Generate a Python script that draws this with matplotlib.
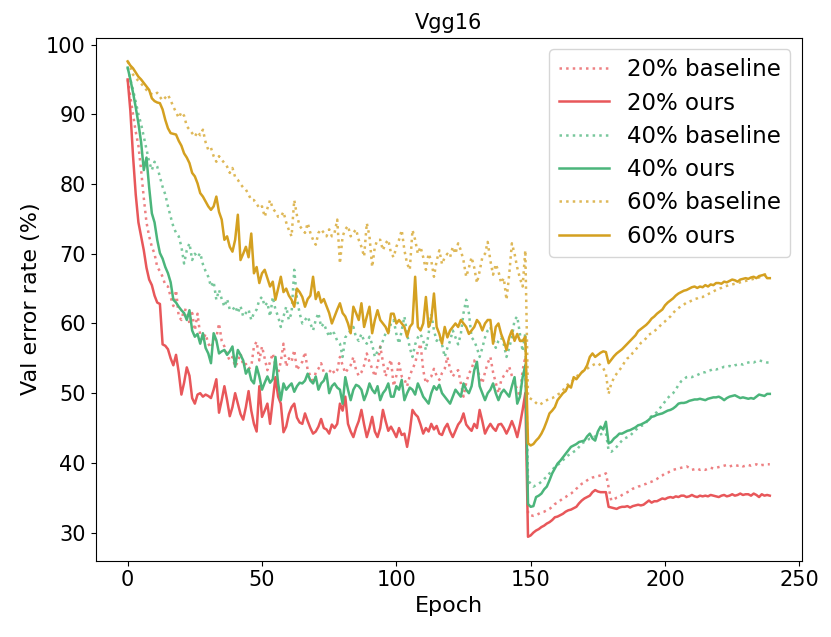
import matplotlib
matplotlib.use("Agg")
import matplotlib.pyplot as plt
import numpy as np

epochs = list(range(240))

r_base = [
95.0, 92.5, 90.0, 87.5, 85.5, 82.0, 78.0, 74.5, 72.5, 71.0,
70.0, 68.1, 67.5, 66.7, 65.5, 65.3, 63.8, 62.5, 64.8, 61.0,
60.5, 62.0, 61.9, 60.0, 61.5, 59.0, 61.4, 58.3, 57.6, 58.5,
57.1, 56.5, 57.5, 58.0, 60.0, 57.5, 56.7, 55.5, 54.7, 55.2,
53.8, 54.5, 55.7, 54.0, 54.2, 53.5, 53.8, 56.7, 57.4, 54.7,
56.7, 55.0, 53.3, 54.5, 55.7, 54.0, 52.9, 54.5, 57.1, 53.8,
55.0, 54.5, 56.2, 53.3, 54.0, 54.5, 55.9, 53.3, 52.5, 51.4,
53.0, 53.5, 54.3, 53.0, 52.4, 53.0, 53.5, 52.8, 53.3, 55.2,
54.0, 52.9, 53.5, 54.0, 55.2, 53.3, 52.5, 53.0, 54.0, 55.7,
54.5, 53.5, 52.4, 54.0, 56.7, 54.5, 52.4, 53.8, 54.8, 51.0,
52.5, 54.3, 52.4, 52.0, 51.0, 52.5, 53.5, 54.3, 56.0, 57.1,
53.3, 51.4, 52.0, 52.4, 53.5, 52.5, 51.9, 52.9, 53.5, 55.2,
53.5, 52.4, 53.0, 53.3, 51.4, 49.5, 51.5, 52.8, 53.5, 54.7,
53.3, 52.5, 51.4, 53.0, 54.3, 55.2, 53.0, 51.5, 50.0, 51.8,
52.5, 53.0, 53.8, 52.5, 51.5, 50.5, 49.5, 53.3, 55.2, 32.7,
32.5, 32.4, 32.5, 32.7, 32.9, 33.0, 33.2, 33.4, 33.7, 34.1,
34.3, 34.6, 34.9, 35.1, 35.4, 35.6, 35.9, 36.3, 36.6, 37.0,
37.2, 37.5, 37.7, 37.9, 38.0, 38.1, 38.2, 38.3, 38.5, 36.5,
34.6, 34.8, 35.0, 35.1, 35.4, 35.6, 35.8, 36.0, 36.3, 36.4,
36.6, 36.7, 36.9, 37.0, 37.2, 37.3, 37.5, 37.7, 38.0, 38.2,
38.5, 38.6, 38.8, 39.0, 39.1, 39.2, 39.3, 39.4, 39.5, 39.3,
39.0, 39.1, 39.2, 39.0, 39.1, 39.0, 39.2, 39.3, 39.2, 39.3,
39.4, 39.5, 39.6, 39.7, 39.5, 39.6, 39.7, 39.6, 39.7, 39.5,
39.6, 39.7, 39.6, 39.7, 39.8, 39.6, 39.7, 39.7, 39.8, 39.8,
]

r_ours = [
95.0, 90.5, 84.0, 78.5, 74.5, 72.5, 70.5, 68.0, 66.3, 65.5,
64.0, 63.0, 62.8, 57.0, 56.8, 56.3, 55.0, 54.0, 55.5, 53.0,
49.8, 51.5, 53.7, 52.5, 49.3, 48.5, 49.8, 50.0, 49.5, 49.8,
49.6, 49.3, 50.5, 52.0, 47.2, 49.0, 51.0, 49.0, 46.7, 48.0,
50.0, 48.5, 47.0, 46.2, 48.0, 50.3, 47.5, 45.6, 44.5, 51.0,
46.6, 47.5, 48.5, 45.6, 49.0, 52.3, 49.5, 48.5, 44.4, 45.2,
47.0, 48.0, 48.5, 46.5, 45.8, 45.6, 47.1, 46.0, 45.0, 44.2,
44.5, 45.2, 46.3, 45.0, 44.8, 44.2, 45.5, 45.0, 45.6, 48.5,
47.5, 49.5, 45.6, 44.5, 43.7, 45.0, 46.0, 47.6, 45.5, 43.7,
45.0, 46.6, 44.5, 43.7, 45.0, 47.6, 46.0, 44.6, 45.2, 44.5,
43.7, 45.0, 44.0, 44.2, 42.3, 44.5, 47.6, 47.0, 46.6, 45.5,
44.2, 45.0, 44.5, 45.6, 44.8, 45.3, 44.2, 44.0, 45.0, 45.6,
44.5, 43.7, 44.6, 45.5, 46.0, 47.1, 45.5, 45.0, 44.6, 45.6,
45.0, 47.6, 46.0, 44.2, 45.0, 45.6, 45.0, 44.6, 45.5, 45.6,
45.0, 44.2, 45.0, 46.0, 45.0, 43.7, 45.5, 47.6, 50.0, 29.4,
29.6, 30.0, 30.3, 30.5, 30.8, 31.0, 31.3, 31.5, 31.8, 32.2,
32.3, 32.5, 32.7, 33.0, 33.2, 33.3, 33.5, 33.7, 34.2, 34.6,
34.9, 35.1, 35.3, 35.8, 36.1, 35.9, 35.8, 35.8, 35.8, 33.7,
33.6, 33.5, 33.4, 33.6, 33.7, 33.7, 33.8, 33.6, 33.8, 33.9,
34.0, 33.9, 34.0, 34.3, 34.6, 34.3, 34.5, 34.5, 34.7, 34.9,
34.8, 35.0, 35.1, 35.0, 35.2, 35.1, 35.3, 35.3, 35.1, 35.2,
35.4, 35.2, 35.1, 35.3, 35.2, 35.3, 35.2, 35.4, 35.3, 35.2,
35.1, 35.3, 35.4, 35.2, 35.3, 35.5, 35.3, 35.4, 35.6, 35.4,
35.5, 35.5, 35.3, 35.6, 35.4, 35.1, 35.5, 35.3, 35.4, 35.3,
]

g_base = [
96.7, 95.0, 93.5, 91.8, 90.0, 88.6, 86.8, 85.0, 83.2, 82.0,
83.2, 82.5, 81.0, 79.6, 78.5, 76.8, 75.3, 73.9, 73.0, 72.5,
71.0, 68.6, 70.5, 71.5, 69.1, 70.0, 69.5, 70.1, 68.5, 67.5,
66.7, 65.3, 66.0, 63.4, 64.8, 63.5, 62.4, 63.5, 62.0, 61.9,
62.5, 61.5, 62.5, 61.0, 61.5, 62.0, 60.5, 61.5, 62.0, 63.4,
63.8, 62.5, 63.0, 61.0, 63.8, 62.0, 61.0, 59.5, 61.0, 62.4,
60.5, 61.5, 67.7, 63.5, 61.5, 60.0, 60.5, 61.0, 60.0, 59.0,
60.5, 61.5, 59.5, 60.0, 59.0, 58.1, 59.0, 58.5, 57.5, 57.1,
55.2, 58.0, 58.5, 59.0, 59.5, 58.0, 57.5, 58.5, 57.5, 57.1,
58.1, 57.0, 55.2, 56.0, 56.5, 57.5, 58.6, 58.6, 60.0, 60.5,
58.5, 57.1, 59.0, 61.0, 58.5, 56.5, 55.2, 57.0, 58.0, 58.5,
57.5, 56.2, 58.5, 61.4, 59.0, 57.5, 58.0, 57.0, 55.2, 56.5,
57.5, 59.0, 58.0, 57.0, 58.5, 61.5, 63.4, 61.5, 58.0, 57.5,
56.5, 55.2, 56.5, 58.0, 59.0, 59.5, 58.0, 56.5, 57.5, 58.0,
57.0, 55.2, 56.5, 58.0, 60.5, 61.0, 58.5, 56.0, 58.6, 37.5,
37.0, 36.6, 36.8, 37.0, 37.3, 37.7, 38.0, 38.5, 39.0, 39.4,
39.7, 40.0, 40.4, 40.7, 41.1, 41.3, 41.6, 41.8, 42.3, 42.8,
43.0, 43.2, 43.5, 43.6, 43.8, 44.0, 44.1, 44.2, 44.3, 41.8,
41.6, 41.9, 42.3, 42.8, 43.2, 43.5, 43.7, 43.9, 44.3, 44.7,
45.0, 45.3, 45.4, 45.8, 46.4, 46.7, 47.0, 47.3, 47.8, 48.3,
48.8, 49.3, 49.7, 50.0, 50.5, 51.2, 51.7, 52.0, 52.3, 52.4,
52.3, 52.5, 52.6, 52.8, 53.0, 53.0, 53.2, 53.3, 53.5, 53.4,
53.5, 53.6, 53.8, 53.8, 53.9, 53.8, 54.0, 54.1, 54.2, 54.1,
54.3, 54.4, 54.5, 54.4, 54.6, 54.7, 54.6, 54.5, 54.4, 54.4,
]

g_ours = [
96.7, 95.0, 93.1, 91.0, 88.7, 86.0, 82.0, 83.8, 79.5, 75.8,
74.5, 72.0, 70.1, 69.3, 68.1, 67.2, 65.9, 63.4, 63.0, 62.4,
61.9, 61.5, 60.5, 61.9, 59.0, 58.1, 58.5, 57.1, 58.6, 56.5,
55.7, 54.3, 58.6, 57.6, 55.7, 56.0, 56.2, 55.5, 56.0, 56.7,
53.8, 56.2, 55.5, 54.7, 52.8, 53.5, 51.9, 51.4, 53.8, 52.4,
50.5, 51.5, 52.4, 51.5, 52.0, 55.2, 51.4, 49.0, 51.4, 50.5,
51.0, 51.4, 50.2, 51.0, 51.5, 51.4, 51.8, 52.8, 51.8, 51.4,
52.4, 50.5, 51.4, 51.8, 52.8, 50.0, 51.0, 51.4, 50.8, 50.5,
48.5, 52.3, 50.5, 49.0, 50.5, 51.2, 51.0, 50.5, 49.0, 50.0,
51.4, 50.5, 50.0, 51.0, 49.0, 50.0, 50.5, 51.4, 49.5, 49.5,
51.0, 50.5, 51.9, 49.0, 50.0, 50.8, 50.5, 49.8, 51.4, 50.5,
49.5, 49.0, 48.5, 50.0, 51.0, 50.5, 51.2, 50.0, 49.5, 49.0,
48.5, 49.5, 50.5, 50.0, 49.5, 51.4, 50.5, 50.0, 51.0, 53.3,
54.5, 51.0, 50.0, 49.0, 50.0, 50.5, 51.4, 50.0, 49.0, 50.0,
50.5, 50.0, 49.5, 51.0, 52.3, 48.5, 49.5, 52.3, 54.0, 34.1,
33.7, 33.8, 35.1, 35.3, 35.6, 36.2, 36.6, 37.5, 38.5, 39.2,
39.9, 40.3, 40.8, 41.3, 41.8, 42.3, 42.5, 42.7, 43.0, 43.1,
43.2, 43.8, 44.2, 43.5, 43.2, 44.5, 45.2, 44.8, 45.9, 42.8,
43.0, 43.5, 43.8, 44.2, 44.2, 44.4, 44.6, 44.7, 44.9, 45.1,
45.4, 45.5, 45.7, 45.9, 46.2, 46.6, 46.7, 46.9, 47.0, 47.1,
47.3, 47.5, 47.6, 47.8, 48.1, 48.5, 48.6, 48.6, 48.7, 48.9,
49.0, 49.1, 49.1, 49.2, 49.1, 49.0, 49.2, 49.3, 49.4, 49.4,
49.5, 49.3, 49.0, 49.3, 49.5, 49.6, 49.7, 49.5, 49.3, 49.4,
49.3, 49.2, 49.3, 49.2, 49.5, 49.8, 49.7, 49.6, 49.9, 49.9,
]

y_base = [
97.6, 96.8, 95.7, 95.2, 94.8, 94.4, 94.0, 93.5, 93.1, 92.9,
92.8, 93.1, 92.5, 92.0, 92.4, 92.8, 92.0, 91.1, 90.3, 89.5,
90.3, 89.8, 88.3, 87.8, 87.3, 86.8, 87.5, 87.0, 87.8, 86.0,
84.9, 85.2, 84.0, 83.2, 84.0, 83.5, 83.0, 82.5, 81.6, 82.3,
81.0, 80.6, 80.0, 79.5, 79.2, 78.5, 77.7, 77.7, 77.2, 76.5,
76.8, 75.3, 76.5, 77.7, 76.5, 76.0, 75.3, 75.3, 76.0, 74.5,
73.4, 72.5, 77.7, 75.5, 74.0, 73.5, 73.0, 74.4, 73.0, 72.0,
71.3, 73.0, 73.5, 73.0, 72.5, 73.5, 72.5, 73.0, 74.9, 68.6,
72.5, 73.5, 74.0, 72.5, 73.0, 73.5, 72.0, 71.0, 69.6, 74.4,
72.5, 68.1, 71.0, 72.0, 72.0, 70.5, 71.5, 72.0, 70.1, 69.5,
71.0, 72.0, 73.4, 70.5, 68.6, 67.7, 73.4, 72.0, 70.0, 71.0,
69.5, 67.7, 70.0, 69.0, 66.7, 69.0, 70.5, 68.5, 69.5, 70.0,
69.5, 71.0, 70.0, 71.5, 70.5, 69.0, 66.7, 68.0, 69.5, 68.0,
65.8, 67.5, 69.5, 70.0, 71.7, 69.0, 67.0, 68.5, 67.5, 65.8,
66.5, 63.4, 67.0, 71.5, 70.0, 68.0, 66.5, 65.3, 70.5, 49.5,
49.2, 49.0, 48.6, 48.3, 48.5, 48.8, 49.0, 49.2, 49.3, 49.5,
49.8, 50.0, 50.4, 51.0, 51.3, 51.6, 51.9, 52.3, 52.8, 53.0,
53.3, 53.5, 53.8, 54.0, 54.2, 54.3, 54.0, 53.6, 52.8, 49.9,
51.4, 52.2, 52.8, 53.3, 53.8, 54.5, 55.0, 55.2, 55.8, 56.2,
56.7, 57.2, 57.5, 57.9, 58.4, 58.6, 58.9, 59.2, 59.6, 60.0,
60.3, 60.7, 61.0, 61.5, 61.9, 62.2, 62.5, 62.7, 63.0, 63.1,
63.3, 63.5, 63.6, 63.8, 63.8, 64.0, 64.2, 64.4, 64.6, 64.8,
65.0, 65.1, 65.3, 65.4, 65.5, 65.6, 65.7, 65.8, 65.9, 66.0,
66.1, 66.2, 66.3, 66.4, 66.5, 66.6, 66.8, 67.0, 67.1, 67.2,
]

y_ours = [
97.6, 97.0, 96.6, 96.0, 95.4, 95.0, 94.5, 94.0, 93.5, 92.3,
91.9, 91.7, 91.6, 90.7, 89.2, 88.0, 87.3, 87.2, 87.1, 86.2,
85.5, 84.4, 83.8, 83.0, 81.6, 81.1, 80.1, 78.7, 78.2, 77.5,
76.8, 76.3, 76.8, 78.2, 76.0, 74.9, 72.0, 72.5, 71.0, 70.3,
72.0, 75.6, 69.1, 70.0, 71.0, 69.5, 72.9, 67.2, 68.1, 65.8,
67.2, 67.7, 66.5, 65.3, 66.0, 63.4, 65.0, 66.7, 64.5, 65.0,
64.0, 63.4, 62.4, 65.0, 64.5, 63.8, 62.4, 63.5, 64.0, 66.7,
63.5, 64.5, 63.0, 63.5, 62.5, 61.5, 60.0, 61.0, 62.0, 62.9,
61.5, 61.0, 60.0, 58.6, 62.4, 61.5, 60.5, 62.9, 59.5, 61.0,
62.4, 58.6, 60.5, 61.9, 60.5, 60.0, 59.5, 58.6, 61.4, 61.4,
60.0, 60.5, 60.0, 59.5, 58.1, 59.5, 60.0, 66.7, 59.5, 59.0,
60.0, 63.8, 59.5, 60.5, 64.3, 59.5, 58.5, 57.1, 59.5, 58.0,
59.0, 59.5, 60.0, 59.5, 60.5, 60.0, 59.5, 58.5, 59.0, 59.5,
60.5, 60.0, 59.0, 60.0, 60.5, 60.5, 57.1, 59.5, 60.0, 58.5,
57.5, 56.2, 58.0, 59.0, 57.5, 58.5, 57.5, 57.5, 58.1, 42.8,
42.5, 42.7, 43.2, 43.6, 44.2, 45.0, 46.0, 47.1, 47.5, 48.0,
49.0, 49.5, 50.0, 50.3, 51.1, 50.8, 52.3, 52.0, 52.5, 53.0,
53.3, 54.0, 55.2, 55.7, 55.2, 55.5, 55.8, 56.0, 55.9, 54.3,
54.8, 55.3, 55.7, 56.0, 56.3, 56.7, 57.1, 57.5, 57.9, 58.3,
58.9, 59.2, 59.5, 59.8, 60.2, 60.7, 61.0, 61.4, 61.7, 62.0,
62.6, 63.0, 63.3, 63.6, 64.0, 64.3, 64.5, 64.7, 64.8, 65.0,
65.2, 65.3, 65.1, 65.3, 65.2, 65.5, 65.3, 65.6, 65.5, 65.8,
65.8, 65.7, 66.0, 65.9, 66.1, 66.3, 66.2, 66.0, 66.3, 66.4,
66.5, 66.4, 66.6, 66.7, 66.5, 66.8, 66.9, 67.0, 66.5, 66.5,
]

labels = ["20% baseline", "20% ours", "40% baseline", "40% ours", "60% baseline", "60% ours"]
RED, GREEN, GOLD = "#E8575A", "#4BB57B", "#D4A020"

fig = plt.figure(figsize=(8.31, 6.37), dpi=100)
ax = fig.add_axes([0.115, 0.120, 0.850, 0.821])

series = [
    (r_base, RED, ":", 0.75, labels[0]),
    (r_ours, RED, "-", 1.0, labels[1]),
    (g_base, GREEN, ":", 0.75, labels[2]),
    (g_ours, GREEN, "-", 1.0, labels[3]),
    (y_base, GOLD, ":", 0.75, labels[4]),
    (y_ours, GOLD, "-", 1.0, labels[5]),
]
for vals, col, ls, al, lab in series:
    ax.plot(epochs, vals, color=col, linestyle=ls, alpha=al, linewidth=1.8, label=lab)

ax.set_title("Vgg16", fontsize=15)
ax.set_xlabel("Epoch", fontsize=16)
ax.set_ylabel("Val error rate (%)", fontsize=16)
ax.tick_params(labelsize=15)
ax.legend(loc="upper right", fontsize=16.5, handlelength=2.2, labelspacing=0.45)

fig.savefig("out.png", dpi=100)
